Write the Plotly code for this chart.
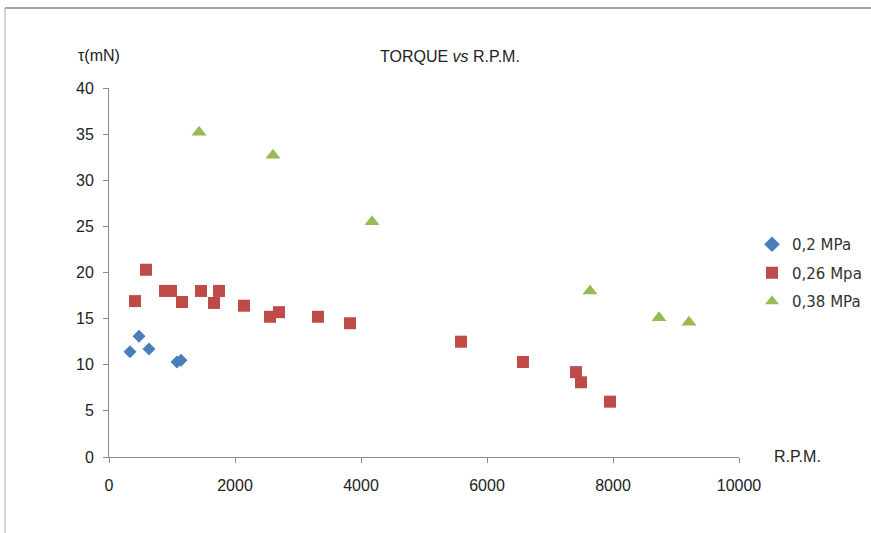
import plotly.graph_objects as go

# 0,2 MPa
rpm_02 = [333, 476, 635, 1079, 1143]
tau_02 = [11.4, 13.1, 11.7, 10.3, 10.5]

# 0,26 Mpa
rpm_026 = [413, 587, 889, 984, 1159, 1460, 1667, 1746, 2143, 2556, 2698, 3317, 3825, 5587, 6571, 7413, 7492, 7952]
tau_026 = [16.9, 20.3, 18.0, 18.0, 16.8, 18.0, 16.7, 18.0, 16.4, 15.2, 15.7, 15.2, 14.5, 12.5, 10.3, 9.2, 8.1, 6.0]

# 0,38 MPa
rpm_038 = [1429, 2603, 4175, 7635, 8730, 9206]
tau_038 = [35.2, 32.7, 25.5, 18.0, 15.1, 14.6]

x_ticks = [0, 2000, 4000, 6000, 8000, 10000]
y_ticks = [0, 5, 10, 15, 20, 25, 30, 35, 40]

FONT = "Liberation Sans, Arial, sans-serif"

fig = go.Figure()
fig.add_trace(go.Scatter(x=rpm_02, y=tau_02, mode="markers", name="0,2 MPa", legendgroup="a",
                         marker=dict(symbol="diamond", size=10, color="#4a7ebb")))
fig.add_trace(go.Scatter(x=rpm_026, y=tau_026, mode="markers", name="0,26 Mpa", legendgroup="b",
                         marker=dict(symbol="square", size=12, color="#be4b48")))
fig.add_trace(go.Scatter(x=rpm_038, y=tau_038, mode="markers", name="0,38 MPa", legendgroup="c",
                         marker=dict(symbol="triangle-up", size=13, color="#98b954")))

W, H = 871, 533
L, R, T, B = 109, 132, 88, 76
pw, ph = W - L - R, H - T - B

def px(xp):
    return (xp - L) / pw

def py(yp):
    return (H - B - yp) / ph

fig.update_layout(
    width=W, height=H,
    margin=dict(l=L, r=R, t=T, b=B, autoexpand=False),
    paper_bgcolor="white", plot_bgcolor="white",
    font=dict(family=FONT, size=16, color="#222222"),
    showlegend=True,
    legend=dict(x=px(752), y=py(228), xanchor="left", yanchor="top",
                font=dict(family="DejaVu Sans", size=15, color="#333333"),
                tracegroupgap=6, itemsizing="constant", bgcolor="rgba(0,0,0,0)"),
    xaxis=dict(range=[0, 10000], tickvals=x_ticks, tickformat="d", showgrid=False, zeroline=False,
               showline=True, linecolor="#8c8c8c", linewidth=1,
               ticks="outside", ticklen=5, tickcolor="#8c8c8c",
               ticklabelstandoff=9, tickfont=dict(size=16)),
    yaxis=dict(range=[0, 40], tickvals=y_ticks, showgrid=False, zeroline=False,
               showline=True, linecolor="#8c8c8c", linewidth=1,
               ticks="outside", ticklen=5, tickcolor="#8c8c8c",
               ticklabelstandoff=6, tickfont=dict(size=16)),
    annotations=[
        dict(text="TORQUE <i>vs</i> R.P.M.", xref="paper", yref="paper",
             x=px(450), y=py(46), showarrow=False, font=dict(size=16)),
        dict(text="τ(mN)", xref="paper", yref="paper",
             x=px(76), y=py(45), showarrow=False, font=dict(size=16)),
        dict(text="R.P.M.", xref="paper", yref="paper",
             x=px(823), y=py(467), showarrow=False, font=dict(size=16)),
    ],
    shapes=[
        dict(type="line", xref="paper", yref="paper", x0=px(5), x1=px(871),
             y0=py(8), y1=py(8), line=dict(color="#a6a6a6", width=2)),
        dict(type="line", xref="paper", yref="paper", x0=px(5), x1=px(5),
             y0=py(8), y1=py(533), line=dict(color="#a6a6a6", width=1)),
    ],
)

fig.write_html("out.html", config={"displayModeBar": False},
               post_script="document.body.style.margin='0';")
